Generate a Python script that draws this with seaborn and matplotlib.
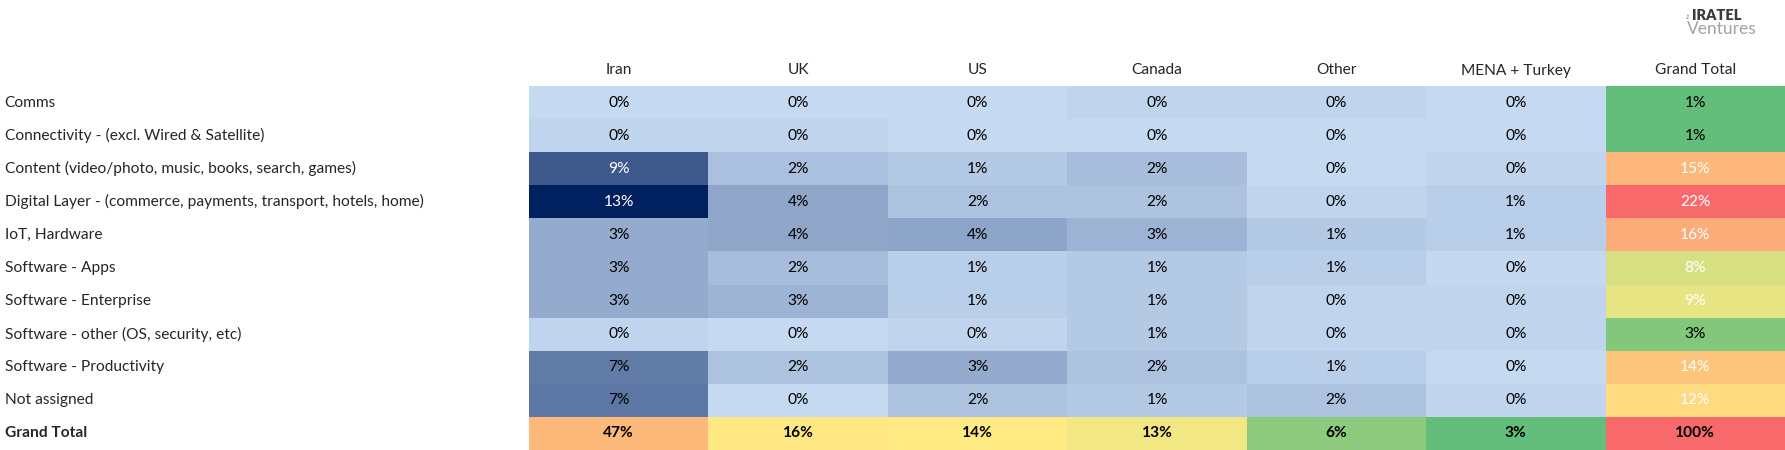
import numpy as np
import pandas as pd
import matplotlib
matplotlib.use("Agg")
import matplotlib.pyplot as plt
import seaborn as sns
from matplotlib.colors import LinearSegmentedColormap, TwoSlopeNorm

# ---------------- data ----------------
categories = [
    "Comms",
    "Connectivity - (excl. Wired & Satellite)",
    "Content (video/photo, music, books, search, games)",
    "Digital Layer - (commerce, payments, transport, hotels, home)",
    "IoT, Hardware",
    "Software - Apps",
    "Software - Enterprise",
    "Software - other (OS, security, etc)",
    "Software - Productivity",
    "Not assigned",
]
total_label = "Grand Total"
columns = ["Iran", "UK", "US", "Canada", "Other", "MENA + Turkey", "Grand Total"]

# shares in % per category (rows) for each region
iran   = [0.0, 0.4, 9.2, 13.4, 3.4, 3.4, 3.4, 0.4, 6.7, 7.1]
uk     = [0.0, 0.4, 1.8, 3.7, 3.7, 2.0, 2.7, 0.0, 1.7, 0.0]
us     = [0.0, 0.0, 1.2, 1.7, 3.8, 0.8, 0.8, 0.4, 3.3, 1.7]
canada = [0.4, 0.0, 2.0, 1.7, 2.8, 1.2, 1.2, 1.2, 1.7, 1.2]
other  = [0.4, 0.0, 0.0, 0.4, 1.2, 0.8, 0.4, 0.4, 0.8, 1.7]
mena   = [0.0, 0.0, 0.4, 0.8, 0.8, 0.1, 0.4, 0.4, 0.0, 0.4]

gt_col = [1, 1, 15, 22, 16, 8, 9, 3, 14, 12]   # Grand Total column
gt_row = [47, 16, 14, 13, 6, 3]                # Grand Total row
grand_total = 100

# ---------------- table ----------------
n_cat = len(categories)
n_reg = 6
block = np.array([iran, uk, us, canada, other, mena]).T
data = np.full((n_cat + 1, n_reg + 1), np.nan)
data[:n_cat, :n_reg] = block
data[:n_cat, n_reg] = gt_col
data[n_cat, :n_reg] = gt_row
data[n_cat, n_reg] = grand_total
df = pd.DataFrame(data, index=categories + [total_label], columns=columns)

sns.set_theme(style="white")
plt.rcParams["font.family"] = ["Lato", "DejaVu Sans"]

W, H = 1785, 450
fig = plt.figure(figsize=(W / 100, H / 100), dpi=100)
left_px, top_px = 529, 86
ax = fig.add_axes([left_px / W, 0.0, 1 - left_px / W, 1 - top_px / H])

blue = LinearSegmentedColormap.from_list("xl_blue", ["#C5D9F1", "#002060"])
gyr = LinearSegmentedColormap.from_list("xl_gyr", ["#63BE7B", "#FFEB84", "#F8696B"])

# region block
m = np.ones(data.shape, bool); m[:n_cat, :n_reg] = False
sns.heatmap(df, mask=m, cmap=blue, vmin=block.min(), vmax=block.max(),
            cbar=False, ax=ax)
# grand total column
m = np.ones(data.shape, bool); m[:n_cat, n_reg] = False
sns.heatmap(df, mask=m, cmap=gyr,
            norm=TwoSlopeNorm(vmin=min(gt_col), vcenter=float(np.median(gt_col)),
                              vmax=max(gt_col)),
            cbar=False, ax=ax)
# grand total row
row_vals = gt_row + [grand_total]
m = np.ones(data.shape, bool); m[n_cat, :] = False
sns.heatmap(df, mask=m, cmap=gyr,
            norm=TwoSlopeNorm(vmin=min(row_vals), vcenter=float(np.median(row_vals)),
                              vmax=max(row_vals)),
            cbar=False, ax=ax)

FS = 11.2
bmax = block.max()
for i in range(n_cat + 1):
    for j in range(n_reg + 1):
        v = data[i, j]
        txt = f"{v:.0f}%"
        weight = "normal"
        color = "black"
        if i == n_cat:
            weight = "bold"
        elif j == n_reg:
            color = "white" if v >= 5 else "black"
        else:
            color = "white" if v / bmax > 0.6 else "black"
        ax.text(j + 0.5, i + 0.5, txt, ha="center", va="center",
                fontsize=FS, color=color, fontweight=weight)

# axes labels
ax.xaxis.tick_top()
ax.set_xticks(np.arange(n_reg + 1) + 0.5)
ax.set_xticklabels(columns, rotation=0, fontsize=FS, va="center")
ax.tick_params(axis="x", length=0, pad=15.5 * 0.72)
ax.set_yticks(np.arange(n_cat + 1) + 0.5)
ax.set_yticklabels(categories + [total_label], rotation=0, fontsize=FS,
                   ha="left", va="center")
ax.tick_params(axis="y", length=0, pad=(left_px - 4.5) * 0.72)
ax.get_yticklabels()[-1].set_fontweight("bold")
ax.set_xlabel("")
ax.set_ylabel("")
for s in ax.spines.values():
    s.set_visible(False)

# logo
fig.text(1689 / W, 1 - 15 / H, "the", fontsize=3, rotation=90,
         color="#777777", ha="center", va="center")
fig.text(1692 / W, 1 - 15 / H, "IRATEL", fontsize=10.5, fontweight="heavy",
         color="#3a3a3a", ha="left", va="center")
fig.text(1687 / W, 1 - 29.5 / H, "Ventures", fontsize=12.5, fontweight="normal",
         color="#a3a3a3", ha="left", va="center")

fig.savefig("out.png", dpi=100)
